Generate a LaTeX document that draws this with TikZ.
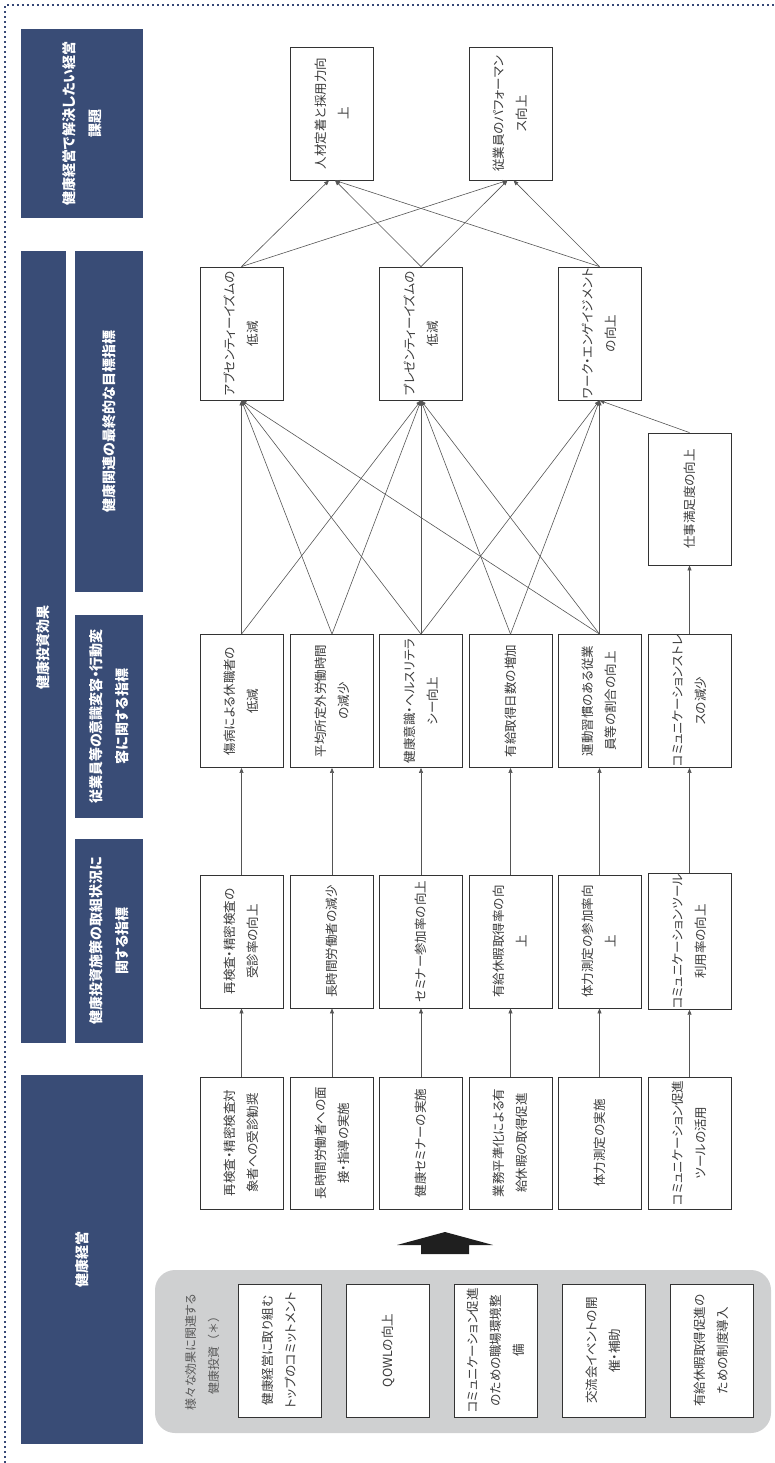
\documentclass[tikz,border=0pt]{standalone}
\usepackage{fontspec}
\usepackage{graphicx}
\setmainfont{Noto Sans CJK JP}[CharacterWidth=AlternateProportional]
\newfontfamily\fullw{Noto Sans CJK JP}
\usetikzlibrary{arrows.meta}

\definecolor{navy}{RGB}{57,76,118}
\definecolor{framecol}{RGB}{55,72,118}
\definecolor{panel}{RGB}{207,208,209}
\definecolor{ink}{RGB}{58,58,58}
\definecolor{edge}{RGB}{85,85,85}

% text set vertically, reading upwards, lines centred
\newcommand{\vtext}[1]{\rotatebox{90}{\begin{tabular}{@{}c@{}}#1\end{tabular}}}

\tikzset{
  head/.style={fill=navy, text=white, inner sep=0pt,
    font=\fontsize{14}{26}\selectfont\bfseries},
  card/.style={draw=black!80, line width=0.8pt, fill=white, text=ink,
    minimum width=83pt, minimum height=133pt, inner sep=0pt,
    font=\fontsize{12.5}{23}\selectfont},
  link/.style={draw=edge, line width=0.6pt,
    -{Triangle[length=5pt,width=4pt]}},
}

\begin{document}
\begin{tikzpicture}[x=1pt,y=-1pt]
\useasboundingbox (0,0) rectangle (774,1463);

% dotted frame
\draw[framecol, line width=2pt, dash pattern=on 2pt off 3pt] (5,1463) -- (5,5) -- (774,5);

% category headers
\node[head, minimum width=122pt, minimum height=189pt] (hA) at (82,123.5)
  {\vtext{健康経営で解決したい経営\\課題}};
\node[head, minimum width=45pt, minimum height=792pt] (hB) at (43.5,647)
  {\vtext{健康投資効果}};
\node[head, minimum width=68pt, minimum height=341pt] (hC) at (109,421.5)
  {\vtext{健康関連の最終的な目標指標}};
\node[head, minimum width=68pt, minimum height=203pt] (hD) at (109,716.5)
  {\vtext{従業員等の意識変容・行動変\\容に関する指標}};
\node[head, minimum width=68pt, minimum height=204pt] (hE) at (109,941)
  {\vtext{健康投資施策の取組状況に\\関する指標}};
\node[head, minimum width=122pt, minimum height=369pt] (hF) at (82,1259.5)
  {\vtext{健康経営}};

% management goals
\node[card] (g1) at (332,113.5) {\vtext{人材定着と採用力向\\上}};
\node[card] (g2) at (510.5,113.5) {\vtext{従業員のパフォーマン\\ス向上}};

% final health indicators
\node[card] (fA) at (241.5,333.5) {\vtext{アブセンティーイズムの\\低減}};
\node[card] (fP) at (421,333.5) {\vtext{プレゼンティーイズムの\\低減}};
\node[card] (fW) at (599.5,333.5) {\vtext{ワーク・エンゲイジメント\\の向上}};
\node[card, minimum height=132pt] (fS) at (689.5,499) {\vtext{仕事満足度の向上}};

% awareness / behaviour indicators
\node[card] (b1) at (241.5,701) {\vtext{傷病による休職者の\\低減}};
\node[card] (b2) at (332,701) {\vtext{平均所定外労働時間\\の減少}};
\node[card] (b3) at (421,701) {\vtext{健康意識・ヘルスリテラ\\シー向上}};
\node[card] (b4) at (510.5,701) {\vtext{有給取得日数の増加}};
\node[card] (b5) at (599.5,701) {\vtext{運動習慣のある従業\\員等の割合の向上}};
\node[card] (b6) at (689.5,701) {\vtext{コミュニケーションストレ\\スの減少}};

% measure status indicators
\node[card] (s1) at (241.5,941.5) {\vtext{再検査・精密検査の\\受診率の向上}};
\node[card] (s2) at (332,941.5) {\vtext{長時間労働者の減少}};
\node[card] (s3) at (421,941.5) {\vtext{セミナー参加率の向上}};
\node[card] (s4) at (510.5,941.5) {\vtext{有給休暇取得率の向\\上}};
\node[card] (s5) at (599.5,941.5) {\vtext{体力測定の参加率向\\上}};
\node[card] (s6) at (689.5,941.5) {\vtext{コミュニケーションツール\\利用率の向上}};

% health investment measures
\node[card, minimum height=132pt] (m1) at (241.5,1143) {\vtext{再検査・精密検査対\\象者への受診勧奨}};
\node[card, minimum height=132pt] (m2) at (332,1143) {\vtext{長時間労働者への面\\接・指導の実施}};
\node[card, minimum height=132pt] (m3) at (421,1143) {\vtext{健康セミナーの実施}};
\node[card, minimum height=132pt] (m4) at (510.5,1143) {\vtext{業務平準化による有\\給休暇の取得促進}};
\node[card, minimum height=132pt] (m5) at (599.5,1143) {\vtext{体力測定の実施}};
\node[card, minimum height=132pt] (m6) at (689.5,1143) {\vtext{コミュニケーション促進\\ツールの活用}};

% block arrow
\fill[black!88] (445,1232) -- (493,1245) -- (469,1245) -- (469,1254)
  -- (421,1254) -- (421,1245) -- (397,1245) -- cycle;

% panel of broadly related investments
\fill[panel, rounded corners=20pt] (155,1270) rectangle (771,1433);
\node[text=black!65, font=\fontsize{12}{23}\selectfont] (note) at (202,1352)
  {\vtext{様々な効果に関連する\\健康投資{\fullw（＊）}}};
\node[card] (k1) at (279.5,1350.5) {\vtext{健康経営に取り組む\\トップのコミットメント}};
\node[card] (k2) at (387.5,1350.5) {\vtext{QOWLの向上}};
\node[card] (k3) at (495.5,1350.5) {\vtext{コミュニケーション促進\\のための職場環境整\\備}};
\node[card] (k4) at (603.5,1350.5) {\vtext{交流会イベントの開\\催・補助}};
\node[card] (k5) at (711.5,1350.5) {\vtext{有給休暇取得促進の\\ための制度導入}};

% measures -> status -> behaviour
\foreach \i in {1,...,6} {
  \draw[link] (m\i.north) -- (s\i.south);
  \draw[link] (s\i.north) -- (b\i.south);
}

% behaviour -> final indicators
\foreach \src/\dst in {b1/fA, b1/fP, b2/fA, b2/fP, b3/fA, b3/fP, b3/fW,
                       b4/fP, b4/fW, b5/fA, b5/fP, b5/fW, b6/fS, fS/fW} {
  \draw[link] (\src.north) -- (\dst.south);
}

% final indicators -> management goals
\draw[link] (fA.north) -- ([xshift=-3pt]g1.south);
\draw[link] (fP.north) -- ([xshift=3pt]g1.south);
\draw[link] (fW.north) -- ([xshift=3pt]g1.south);
\draw[link] (fA.north) -- ([xshift=-3pt]g2.south);
\draw[link] (fP.north) -- ([xshift=-3pt]g2.south);
\draw[link] (fW.north) -- ([xshift=3pt]g2.south);
\end{tikzpicture}
\end{document}
